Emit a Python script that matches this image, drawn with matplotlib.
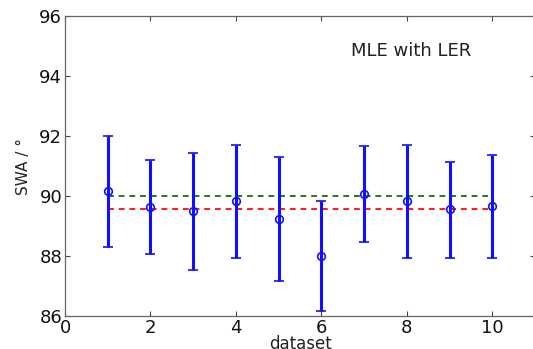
import matplotlib
matplotlib.use("Agg")
import matplotlib.pyplot as plt
import numpy as np

datasets = [1, 2, 3, 4, 5, 6, 7, 8, 9, 10]
swa = [90.18, 89.63, 89.50, 89.83, 89.23, 88.00, 90.06, 89.82, 89.56, 89.66]
upper = [92.01, 91.21, 91.42, 91.70, 91.30, 89.84, 91.66, 91.70, 91.13, 91.38]
lower = [88.29, 88.06, 87.54, 87.92, 87.17, 86.18, 88.48, 87.92, 87.94, 87.92]
true_value = 90.0
mean_value = 89.56
xticks = [0, 2, 4, 6, 8, 10]
yticks = [86, 88, 90, 92, 94, 96]

plt.rcParams['font.family'] = ['DejaVu Sans']

fig = plt.figure(figsize=(5.33, 3.49), dpi=100)
ax = fig.add_axes([0.122, 0.0946, 0.882, 0.8594])

x = np.array(datasets)
y = np.array(swa)
yerr = np.vstack([y - np.array(lower), np.array(upper) - y])

ax.plot([datasets[0], datasets[-1]], [true_value, true_value], color='#1e7d1e',
        linestyle=(0, (3, 2.5)), linewidth=1.4, zorder=2)
ax.plot([datasets[0], datasets[-1]], [mean_value, mean_value], color='#ff1a1a',
        linestyle=(0, (3, 2.5)), linewidth=1.4, zorder=2)
ax.errorbar(x, y, yerr=yerr, fmt='o', color='#1010ff', ecolor='#1010ff',
            elinewidth=2.2, capsize=3.6, capthick=1.8, markersize=5.5,
            markerfacecolor='none', markeredgewidth=1.2, zorder=3)

ax.set_xlim(0, 11)
ax.set_ylim(86, 96)
ax.set_xticks(xticks)
ax.set_yticks(yticks)
ax.tick_params(direction='in', length=3.5, width=0.8, top=True, right=True,
               labelsize=13, colors='#444444', labelcolor='#111111', pad=2)
for s in ax.spines.values():
    s.set_color('#666666')
    s.set_linewidth(0.9)
ax.spines['right'].set_visible(False)

ax.set_xlabel('dataset', fontsize=12, color='#222222', labelpad=-1)
ax.set_ylabel('SWA / °', fontsize=11, color='#222222', labelpad=6)
ax.text(8.1, 94.85, 'MLE with LER', fontsize=13, color='#222222',
        ha='center', va='center')

fig.savefig('out.png', dpi=100)
